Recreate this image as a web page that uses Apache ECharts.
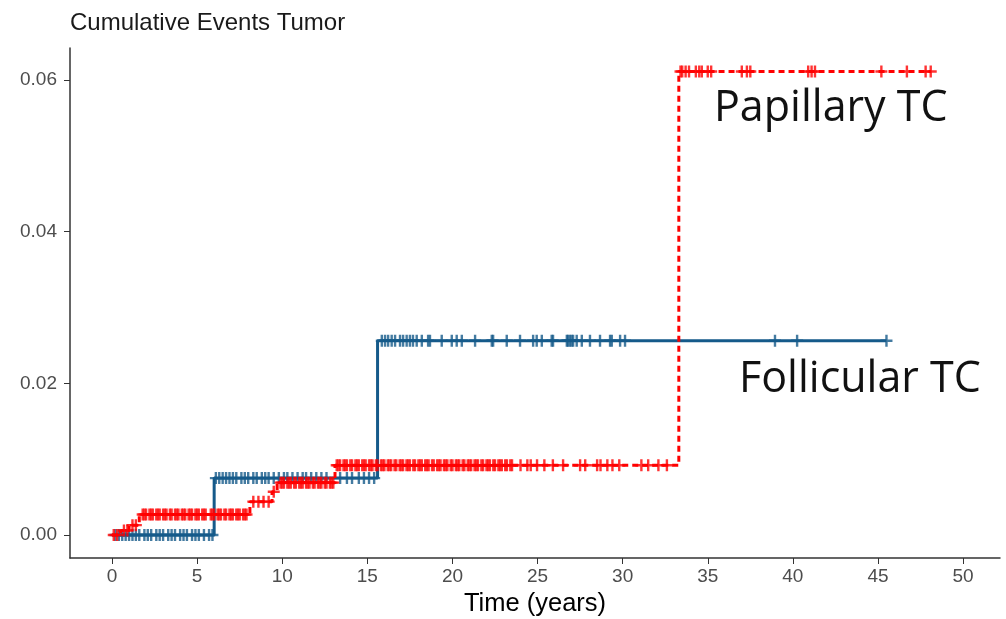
<!DOCTYPE html>
<html>
<head>
<meta charset="utf-8">
<script src="https://cdn.jsdelivr.net/npm/echarts@6/dist/echarts.min.js"></script>
<style>html,body{margin:0;padding:0;background:#fff}#c{width:1006px;height:619px}</style>
</head>
<body>
<div id="c"></div>
<script>
// Tick labels
const xTicks = [0, 5, 10, 15, 20, 25, 30, 35, 40, 45, 50];
const yTicks = [0, 0.02, 0.04, 0.06];

// Follicular TC: step times and cumulative event values
const follicularSteps = [[0, 0], [6.0, 0.0075], [15.6, 0.0256]];
const follicularEnd = 45.5;
const follicularCensor = [0.2,0.4,0.6,0.8,1.0,1.2,1.4,1.6,1.9,2.1,2.3,2.6,2.8,3.0,3.3,3.5,3.7,4.0,4.2,4.4,4.7,4.9,5.1,5.4,5.7,5.9,
  6.1,6.3,6.5,6.7,6.9,7.1,7.3,7.6,7.8,8.0,8.3,8.5,8.8,9.0,9.2,9.5,9.8,10.1,10.3,10.6,10.9,11.2,11.4,11.7,12.0,12.3,12.6,13.4,13.8,14.1,14.5,14.8,15.1,15.4,
  15.85,16.04,16.22,16.43,16.63,16.92,17.1,17.31,17.5,17.68,17.9,18.2,18.57,18.68,19.37,19.96,20.25,20.55,21.33,22.31,22.39,23.19,23.97,24.74,24.95,25.25,25.83,25.91,26.72,26.79,26.9,27.0,27.09,27.3,27.6,28.08,28.67,29.26,29.36,29.85,30.14,38.95,40.25,45.5];

// Papillary TC: step times and cumulative event values
const papillarySteps = [[0, 0], [0.5, 0.0006], [1.0, 0.0013], [1.6, 0.0027], [8.1, 0.0044], [9.4, 0.0057], [9.7, 0.0069], [13.1, 0.0092], [33.3, 0.0611]];
const papillaryEnd = 48.1;
const papillaryCensor = [0.1,0.3,0.7,0.9,1.2,1.4,1.8,1.9,2.0,2.2,2.3,2.4,2.6,2.7,2.8,3.0,3.1,3.2,3.4,3.5,3.7,3.8,3.9,4.1,4.2,4.3,4.5,4.6,4.7,4.9,5.0,5.1,5.3,5.4,5.5,5.8,5.9,6.0,6.2,6.3,6.4,6.6,6.7,6.9,7.0,7.1,7.3,7.4,7.5,7.7,7.8,7.9,
  8.3,8.6,8.9,9.2,9.5,9.9,10.0,10.1,10.3,10.4,10.5,10.7,10.8,11.0,11.1,11.2,11.4,11.5,11.6,11.8,11.9,12.1,12.2,12.3,12.5,12.6,12.8,12.9,13.0,
  13.2,13.3,13.4,13.6,13.7,13.8,14.0,14.1,14.3,14.4,14.5,14.7,14.8,14.9,15.1,15.2,15.3,15.5,15.6,15.8,15.9,16.0,16.2,16.3,16.4,16.6,16.7,16.9,17.0,17.1,17.3,17.4,17.5,17.7,17.8,18.0,18.1,18.2,18.4,18.5,18.6,18.8,18.9,19.1,19.2,19.3,19.5,19.6,19.7,19.9,20.0,20.2,20.3,20.4,20.6,20.7,20.9,21.0,21.1,21.3,21.4,21.5,21.7,21.8,22.0,22.1,22.2,22.4,22.5,22.7,22.8,22.9,23.1,23.2,23.4,23.5,
  24.0,24.4,24.6,24.97,25.4,25.9,26.5,27.5,27.8,28.5,28.7,29.1,29.4,29.8,31.1,31.5,32.1,32.6,
  33.4,33.5,33.7,33.9,34.3,34.5,34.65,35.0,35.2,37.0,37.3,37.5,40.9,41.1,41.3,45.2,46.7,47.8,48.1];

function stepValue(steps, t) {
  let v = steps[0][1];
  for (const s of steps) { if (s[0] <= t) v = s[1]; }
  return v;
}
function lineData(steps, end) {
  return steps.concat([[end, steps[steps.length - 1][1]]]);
}
function censorData(steps, times) {
  return times.map(t => [t, stepValue(steps, t)]);
}

const blue = '#155a8a';
const red = '#ff0000';
const plus = 'path://M4,0H6V10H4ZM0,4H10V6H0Z';

const chart = echarts.init(document.getElementById('c'), null, {renderer: 'canvas'});
chart.setOption({
  animation: false,
  backgroundColor: '#fff',
  grid: {left: 70, right: 6, top: 48, bottom: 61, outerBoundsMode: 'none', containLabel: false},
  xAxis: {
    type: 'value', min: -2.47, max: 52.17,
    name: 'Time (years)', nameLocation: 'middle', nameGap: 33,
    nameTextStyle: {fontFamily: 'Liberation Sans', fontSize: 25.5, color: '#000'},
    axisLine: {onZero: false, lineStyle: {color: '#333', width: 1.5}},
    axisTick: {show: true, length: 6, customValues: xTicks, lineStyle: {color: '#333'}},
    axisLabel: {customValues: xTicks, margin: 9, fontFamily: 'Liberation Sans', fontSize: 19, color: '#4d4d4d'},
    splitLine: {show: false}
  },
  yAxis: {
    type: 'value', min: -0.00303, max: 0.0642,
    axisLine: {show: true, onZero: false, lineStyle: {color: '#333', width: 1.5}},
    axisTick: {show: true, length: 6, customValues: yTicks, lineStyle: {color: '#333'}},
    axisLabel: {customValues: yTicks, margin: 13, fontFamily: 'Liberation Sans', fontSize: 19, color: '#4d4d4d',
      formatter: v => v.toFixed(2)},
    splitLine: {show: false}
  },
  graphic: [
    {type: 'text', left: 70, top: 11, style: {text: 'Cumulative Events Tumor', font: '24px "Liberation Sans"', fill: '#1a1a1a'}},
    {type: 'text', left: 714, top: 87, style: {text: 'Papillary TC', font: '43px "Open Sans"', fill: '#111'}},
    {type: 'text', left: 739, top: 358, style: {text: 'Follicular TC', font: '43px "Open Sans"', fill: '#111'}}
  ],
  series: [
    {type: 'line', name: 'Follicular TC', step: 'end', showSymbol: false, silent: true,
      data: lineData(follicularSteps, follicularEnd), lineStyle: {color: blue, width: 3}, z: 2},
    {type: 'scatter', name: 'Follicular censor', symbol: plus, symbolSize: 12, silent: true,
      data: censorData(follicularSteps, follicularCensor), itemStyle: {color: blue}, z: 3},
    {type: 'line', name: 'Papillary TC', step: 'end', showSymbol: false, silent: true,
      data: lineData(papillarySteps, papillaryEnd), lineStyle: {color: red, width: 3, type: [6, 4]}, z: 4},
    {type: 'scatter', name: 'Papillary censor', symbol: plus, symbolSize: 12, silent: true,
      data: censorData(papillarySteps, papillaryCensor), itemStyle: {color: red}, z: 5}
  ]
});
</script>
</body>
</html>
